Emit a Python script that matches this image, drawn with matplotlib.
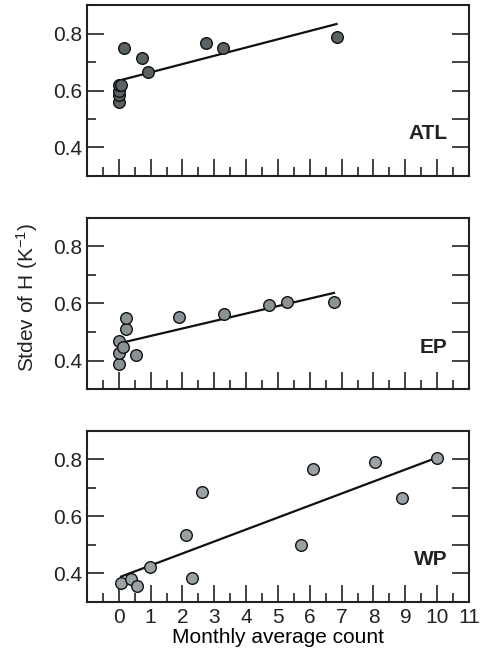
import numpy as np
import matplotlib
matplotlib.use('Agg')
import matplotlib.pyplot as plt

# Values
atl_x = [0.0, 0.0, 0.0, 0.0, 0.08, 0.15, 0.74, 0.92, 2.74, 3.27, 6.84]
atl_y = [0.56, 0.585, 0.60, 0.62, 0.62, 0.749, 0.713, 0.667, 0.767, 0.750, 0.79]
atl_fit_x = [0.0, 6.84]
atl_fit_y = [0.635, 0.834]

ep_x = [0.0, 0.0, 0.0, 0.12, 0.23, 0.23, 0.53, 1.90, 3.30, 4.73, 5.29, 6.76]
ep_y = [0.388, 0.427, 0.469, 0.447, 0.511, 0.549, 0.421, 0.553, 0.564, 0.594, 0.604, 0.605]
ep_fit_x = [0.0, 6.76]
ep_fit_y = [0.46, 0.637]

wp_x = [0.07, 0.39, 0.56, 0.97, 2.11, 2.31, 2.61, 5.72, 6.11, 8.04, 8.89, 9.98]
wp_y = [0.366, 0.381, 0.356, 0.421, 0.534, 0.383, 0.685, 0.500, 0.766, 0.792, 0.664, 0.806]
wp_fit_x = [0.07, 9.98]
wp_fit_y = [0.389, 0.805]

regions = ['ATL', 'EP', 'WP']
yticks = [0.4, 0.6, 0.8]
xticks = list(range(0, 12))

plt.rcParams['font.family'] = ['Liberation Sans', 'DejaVu Sans']
plt.rcParams['mathtext.fontset'] = 'custom'
plt.rcParams['mathtext.rm'] = 'Liberation Sans'
plt.rcParams['mathtext.it'] = 'Liberation Sans'
plt.rcParams['text.color'] = '#222222'
plt.rcParams['xtick.color'] = '#222222'
plt.rcParams['ytick.color'] = '#222222'

fig = plt.figure(figsize=(4.83, 6.54), dpi=100)

panels = [
    (atl_x, atl_y, atl_fit_x, atl_fit_y, '#5a6265', [0.180, 0.731, 0.791, 0.261]),
    (ep_x, ep_y, ep_fit_x, ep_fit_y, '#8a9296', [0.180, 0.405, 0.791, 0.262]),
    (wp_x, wp_y, wp_fit_x, wp_fit_y, '#9aa2a6', [0.180, 0.0795, 0.791, 0.262]),
]

for i, (x, y, fx, fy, col, pos) in enumerate(panels):
    ax = fig.add_axes(pos)
    ax.plot(fx, fy, color='#111111', linewidth=1.6, zorder=2)
    ax.scatter(x, y, s=70, facecolor=col, edgecolor='#111111', linewidth=1.0, zorder=3)
    ax.set_xlim(-1, 11)
    ax.set_ylim(0.3, 0.9)

    ax.set_yticks(yticks)
    ax.set_yticks([0.5, 0.7], minor=True)
    ax.set_yticklabels(['0.4', '0.6', '0.8'])
    ax.set_xticks(xticks)
    ax.set_xticks(np.arange(-0.5, 11, 1.0), minor=True)
    ax.tick_params(which='major', direction='in', length=12, width=1.2,
                   labelsize=15, top=False, right=False)
    ax.tick_params(which='minor', direction='in', length=6.5, width=1.2,
                   top=False, right=False)
    ax.tick_params(axis='x', which='major', pad=4)
    if i < 2:
        ax.tick_params(axis='x', labelbottom=False)
    else:
        ax.set_xlabel('Monthly average count', fontsize=15, labelpad=1)

    for s in ax.spines.values():
        s.set_linewidth(1.5)
        s.set_color('#222222')

    # right side ticks all the same length
    ax2 = ax.twinx()
    ax2.set_ylim(0.3, 0.9)
    ax2.set_yticks([0.4, 0.5, 0.6, 0.7, 0.8])
    ax2.tick_params(direction='in', length=12, width=1.2, labelright=False)
    for s in ax2.spines.values():
        s.set_visible(False)

    ax.text(0.943, 0.19, regions[i], transform=ax.transAxes, fontsize=15,
            fontweight='bold', ha='right', va='bottom')

fig.text(0.056, 1 - 297 / 654, r'Stdev of H (K$^{\mathregular{-1}}$)', rotation=90,
         fontsize=15, ha='center', va='center')

fig.savefig('out.png', dpi=100)
